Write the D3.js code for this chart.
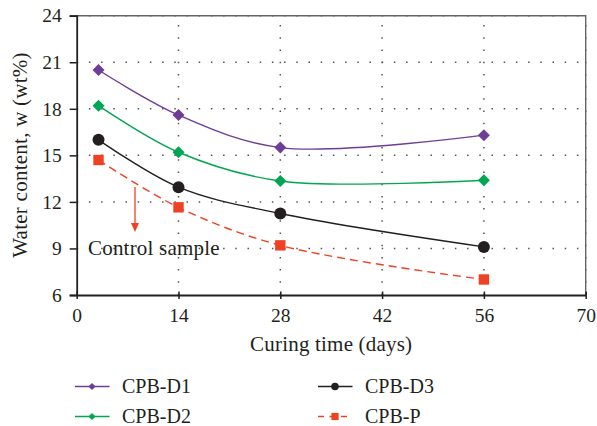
<!DOCTYPE html>
<html>
<head>
<meta charset="utf-8">
<script src="https://cdn.jsdelivr.net/npm/d3@7/dist/d3.min.js"></script>
<style>
  html, body { margin: 0; padding: 0; background: #fff; }
  svg text { font-family: "Liberation Serif", "Times New Roman", serif; fill: #231f20; }
</style>
</head>
<body>
<svg id="chart" width="597" height="426"></svg>
<script>
// Curing times (days) and water content (wt%) for each backfill mix
const days = [3, 14, 28, 56];
const cpbD1 = [20.5, 17.6, 15.5, 16.3];
const cpbD2 = [18.2, 15.2, 13.35, 13.4];
const cpbD3 = [16.0, 12.95, 11.25, 9.1];
const cpbP  = [14.7, 11.65, 9.2, 7.0];

const xTicks = [0, 14, 28, 42, 56, 70];
const yTicks = [6, 9, 12, 15, 18, 21, 24];

const series = [
  { name: "CPB-D1", values: cpbD1, color: "#6f3d98", marker: "diamond", dash: null },
  { name: "CPB-D2", values: cpbD2, color: "#00a651", marker: "diamond", dash: null },
  { name: "CPB-D3", values: cpbD3, color: "#231f20", marker: "circle",  dash: null },
  { name: "CPB-P",  values: cpbP,  color: "#ef4123", marker: "square",  dash: "8,5" }
];

const svg = d3.select("#chart");
const plotL = 76.7, plotR = 585.7, plotT = 15.7, plotB = 295;

const x = d3.scaleLinear().domain([0, 70]).range([plotL, plotR]);
const y = d3.scaleLinear().domain([6, 24]).range([plotB, plotT]);

// dotted grid
const grid = svg.append("g").attr("stroke", "#555").attr("stroke-width", 1.5)
  .attr("stroke-dasharray", "1.5,10.7").attr("stroke-linecap", "butt");
xTicks.filter(d => d > 0).forEach(d => {
  grid.append("line").attr("x1", x(d)).attr("x2", x(d)).attr("y1", plotB).attr("y2", plotT);
});
yTicks.filter(d => d > 6).forEach(d => {
  grid.append("line").attr("x1", plotL).attr("x2", plotR).attr("y1", y(d)).attr("y2", y(d));
});

// top and right frame
svg.append("path")
  .attr("d", `M${plotL},${plotT}H${plotR}V${plotB}`)
  .attr("fill", "none").attr("stroke", "#666").attr("stroke-width", 1.4);

// axes
const xAxis = svg.append("g").attr("transform", `translate(0,${plotB})`)
  .call(d3.axisBottom(x).tickValues(xTicks).tickSize(0).tickPadding(13));
const yAxis = svg.append("g").attr("transform", `translate(${plotL},0)`)
  .call(d3.axisLeft(y).tickValues(yTicks).tickSize(7).tickPadding(8));
[xAxis, yAxis].forEach(a => {
  a.select(".domain").attr("stroke", "#231f20").attr("stroke-width", 1.8);
  a.selectAll(".tick line").attr("stroke", "#231f20").attr("stroke-width", 1.5);
  a.selectAll("text").attr("font-size", 19.5).attr("font-family", "Liberation Serif").attr("fill", "#231f20");
});
xAxis.selectAll(".tick").append("line")
  .attr("y1", -3.5).attr("y2", 4).attr("stroke", "#231f20").attr("stroke-width", 1.5);
xAxis.selectAll(".tick text").attr("dy", "0.71em");

// axis titles
svg.append("text").attr("x", x(35)).attr("y", 351).attr("text-anchor", "middle")
  .attr("font-size", 21).attr("letter-spacing", 0.2).text("Curing time (days)");
svg.append("text").attr("transform", `translate(27,155) rotate(-90)`)
  .attr("text-anchor", "middle").attr("font-size", 21).attr("letter-spacing", 0.25)
  .text("Water content, w (wt%)");

// lines
const line = d3.line().x((d, i) => x(days[i])).y(d => y(d)).curve(d3.curveCatmullRom.alpha(0.5));
series.forEach(s => {
  svg.append("path").attr("d", line(s.values)).attr("fill", "none")
    .attr("stroke", s.color).attr("stroke-width", 1.4)
    .attr("stroke-dasharray", s.dash);
});

function drawMarker(g, type, cx, cy, size, color) {
  if (type === "diamond") {
    g.append("path").attr("d", `M${cx},${cy - size}L${cx + size},${cy}L${cx},${cy + size}L${cx - size},${cy}Z`).attr("fill", color);
  } else if (type === "circle") {
    g.append("circle").attr("cx", cx).attr("cy", cy).attr("r", size).attr("fill", color);
  } else {
    g.append("rect").attr("x", cx - size).attr("y", cy - size).attr("width", 2 * size).attr("height", 2 * size).attr("fill", color);
  }
}
const sizes = { diamond: 6, circle: 6, square: 5.2 };
series.forEach(s => {
  const g = svg.append("g");
  s.values.forEach((v, i) => drawMarker(g, s.marker, x(days[i]), y(v), sizes[s.marker], s.color));
});

// control sample annotation
const red = "#ef4123";
svg.append("line").attr("x1", 135).attr("x2", 135).attr("y1", 187).attr("y2", 224)
  .attr("stroke", red).attr("stroke-width", 1.3);
svg.append("path").attr("d", "M131,223L139,223L135,232Z").attr("fill", red);
svg.append("text").attr("x", 88).attr("y", 255).attr("font-size", 21).attr("letter-spacing", 0.2)
  .text("Control sample");

// legend
const legendPos = [[75, 386.5], [75, 416.5], [318, 386.5], [318, 416.5]];
const legendSize = { diamond: 3.6, circle: 3.8, square: 3.6 };
series.forEach((s, i) => {
  const [lx, ly] = legendPos[i];
  const g = svg.append("g");
  g.append("line").attr("x1", lx).attr("x2", lx + 34.5).attr("y1", ly).attr("y2", ly)
    .attr("stroke", s.color).attr("stroke-width", 1.4)
    .attr("stroke-dasharray", s.dash ? "6,5.5" : null);
  drawMarker(g, s.marker, lx + 17, ly, legendSize[s.marker], s.color);
  g.append("text").attr("x", lx + 47).attr("y", ly + 6).attr("font-size", 20).text(s.name);
});
</script>
</body>
</html>
